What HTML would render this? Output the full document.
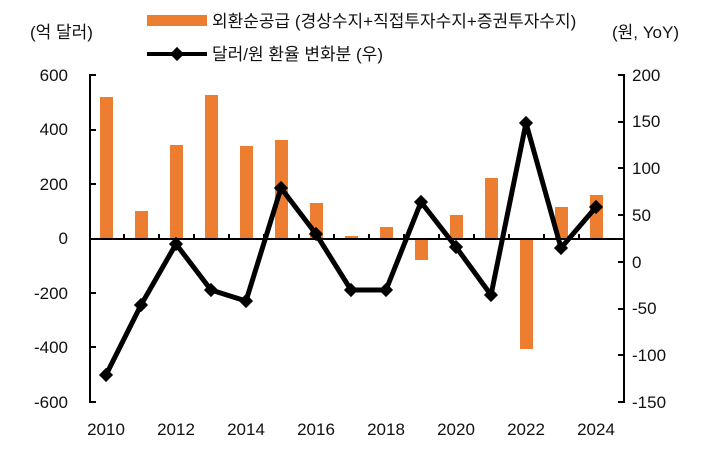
<!DOCTYPE html>
<html><head><meta charset="utf-8"><style>
body{margin:0;background:#fff;}
svg text{font-family:"Liberation Sans","Noto Sans CJK KR",sans-serif;font-size:17px;fill:#111;}
</style></head><body>
<svg width="709" height="450" xmlns="http://www.w3.org/2000/svg">
<text x="30" y="38">(억 달러)</text>
<text x="612" y="38">(원, YoY)</text>
<rect x="147" y="15" width="60" height="11" fill="#ED7D31"/>
<text x="212" y="27">외환순공급 (경상수지+직접투자수지+증권투자수지)</text>
<line x1="147" y1="54" x2="207" y2="54" stroke="#000" stroke-width="4"/>
<rect x="172" y="49" width="10" height="10" fill="#000" transform="rotate(45 177 54)"/>
<text x="212" y="60">달러/원 환율 변화분 (우)</text>
<g text-anchor="end">
<text x="68" y="81">600</text><text x="68" y="135">400</text><text x="68" y="190">200</text>
<text x="68" y="244">0</text><text x="68" y="299">-200</text><text x="68" y="353">-400</text><text x="68" y="408">-600</text>
</g>
<g>
<text x="632" y="81">200</text><text x="632" y="127">150</text><text x="632" y="174">100</text>
<text x="632" y="221">50</text><text x="632" y="268">0</text><text x="632" y="314">-50</text>
<text x="632" y="361">-100</text><text x="632" y="408">-150</text>
</g>
<g text-anchor="middle">
<text x="106" y="435">2010</text><text x="176" y="435">2012</text><text x="246" y="435">2014</text>
<text x="316" y="435">2016</text><text x="386" y="435">2018</text><text x="456" y="435">2020</text>
<text x="526" y="435">2022</text><text x="596" y="435">2024</text>
</g>
<g stroke="#000" stroke-width="2" fill="none">
<polyline points="96,75 90,75 90,402 96,402"/>
<line x1="90" y1="130" x2="96" y2="130"/><line x1="90" y1="184" x2="96" y2="184"/>
<line x1="90" y1="293" x2="96" y2="293"/><line x1="90" y1="347" x2="96" y2="347"/>
<polyline points="618,75 624,75 624,402 618,402"/>
<line x1="624" y1="122" x2="618" y2="122"/><line x1="624" y1="168" x2="618" y2="168"/>
<line x1="624" y1="215" x2="618" y2="215"/><line x1="624" y1="262" x2="618" y2="262"/>
<line x1="624" y1="309" x2="618" y2="309"/><line x1="624" y1="355" x2="618" y2="355"/>
</g>
<g fill="#ED7D31">
<rect x="100" y="97" width="13" height="142"/>
<rect x="135" y="211" width="13" height="28"/>
<rect x="170" y="145" width="13" height="94"/>
<rect x="205" y="95" width="13" height="144"/>
<rect x="240" y="146" width="13" height="93"/>
<rect x="275" y="140" width="13" height="99"/>
<rect x="310" y="203" width="13" height="36"/>
<rect x="345" y="236" width="13" height="3"/>
<rect x="380" y="227" width="13" height="12"/>
<rect x="415" y="239" width="13" height="21"/>
<rect x="450" y="215" width="13" height="24"/>
<rect x="485" y="178" width="13" height="61"/>
<rect x="520" y="239" width="13" height="110"/>
<rect x="555" y="207" width="13" height="32"/>
<rect x="590" y="195" width="13" height="44"/>
</g>
<line x1="90" y1="239" x2="624" y2="239" stroke="#000" stroke-width="2"/>
<g stroke="#000" stroke-width="2">
<line x1="124" y1="239" x2="124" y2="234"/><line x1="159" y1="239" x2="159" y2="234"/><line x1="194" y1="239" x2="194" y2="234"/>
<line x1="229" y1="239" x2="229" y2="234"/><line x1="264" y1="239" x2="264" y2="234"/><line x1="299" y1="239" x2="299" y2="234"/>
<line x1="334" y1="239" x2="334" y2="234"/><line x1="369" y1="239" x2="369" y2="234"/><line x1="404" y1="239" x2="404" y2="234"/>
<line x1="439" y1="239" x2="439" y2="234"/><line x1="474" y1="239" x2="474" y2="234"/><line x1="509" y1="239" x2="509" y2="234"/>
<line x1="544" y1="239" x2="544" y2="234"/><line x1="579" y1="239" x2="579" y2="234"/>
</g>
<polyline fill="none" stroke="#000" stroke-width="5" stroke-linejoin="round" points="106,375 141,305 176,244 211,290 246,301 281,188 316,234 351,290 386,290 421,202 456,247 491,295 526,123 561,248 596,207"/>
<g fill="#000">
<rect x="101" y="370" width="10" height="10" transform="rotate(45 106 375)"/>
<rect x="136" y="300" width="10" height="10" transform="rotate(45 141 305)"/>
<rect x="171" y="239" width="10" height="10" transform="rotate(45 176 244)"/>
<rect x="206" y="285" width="10" height="10" transform="rotate(45 211 290)"/>
<rect x="241" y="296" width="10" height="10" transform="rotate(45 246 301)"/>
<rect x="276" y="183" width="10" height="10" transform="rotate(45 281 188)"/>
<rect x="311" y="229" width="10" height="10" transform="rotate(45 316 234)"/>
<rect x="346" y="285" width="10" height="10" transform="rotate(45 351 290)"/>
<rect x="381" y="285" width="10" height="10" transform="rotate(45 386 290)"/>
<rect x="416" y="197" width="10" height="10" transform="rotate(45 421 202)"/>
<rect x="451" y="242" width="10" height="10" transform="rotate(45 456 247)"/>
<rect x="486" y="290" width="10" height="10" transform="rotate(45 491 295)"/>
<rect x="521" y="118" width="10" height="10" transform="rotate(45 526 123)"/>
<rect x="556" y="243" width="10" height="10" transform="rotate(45 561 248)"/>
<rect x="591" y="202" width="10" height="10" transform="rotate(45 596 207)"/>
</g>
</svg>
</body></html>
